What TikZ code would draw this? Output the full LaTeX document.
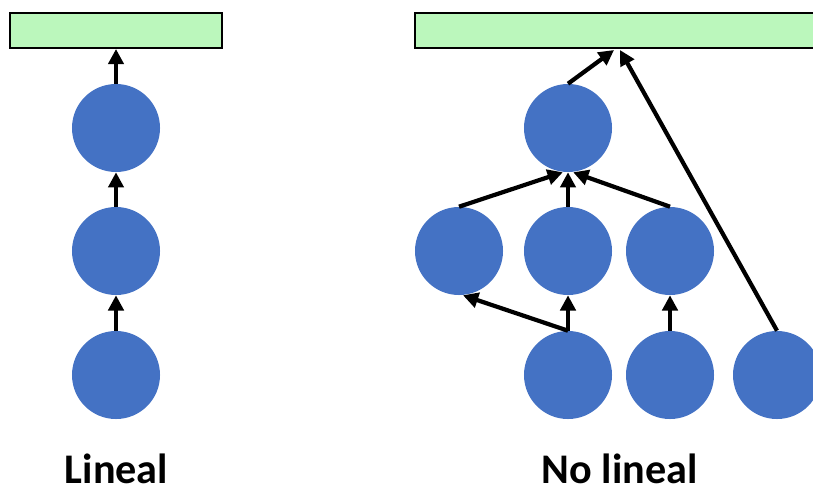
\documentclass[tikz,border=0pt]{standalone}
\usepackage{fontspec}
\setmainfont{Carlito}
\usetikzlibrary{arrows.meta}
\definecolor{nodeblue}{HTML}{4472C4}
\definecolor{bargreen}{HTML}{BBF7BC}
\begin{document}
	\begin{tikzpicture}[x=0.025cm, y=-0.025cm,
		vert/.style={circle, fill=nodeblue, minimum size=2.2cm, inner sep=0pt},
		bar/.style={draw, line width=1.4pt, fill=bargreen, minimum height=0.875cm, inner sep=0pt},
		dep/.style={line width=3pt, -{Triangle[length=3.8mm, width=3.8mm]}},
		lbl/.style={font=\fontsize{30}{36}\selectfont\bfseries, anchor=base, inner sep=0pt}]
		\useasboundingbox ( 0, 0 ) rectangle ( 813, 486 );

		% цепочка слева
		\node [bar, minimum width=5.3cm] (lbar) at ( 116, 30.5 ) {};
		\node [vert] (l1) at ( 116, 128 ) {};
		\node [vert] (l2) at ( 116, 251 ) {};
		\node [vert] (l3) at ( 116, 375 ) {};
		\draw [dep] (l3.north) -- (l2.south);
		\draw [dep] (l2.north) -- (l1.south);
		\draw [dep] (l1.north) -- (lbar.south);
		\node [lbl] (llbl) at ( 116.5, 483 ) {Lineal};

		% граф справа
		\node [bar, minimum width=10.05cm] (rbar) at ( 616, 30.5 ) {};
		\coordinate (rin1) at ( 614, 50 );
		\coordinate (rin2) at ( 620, 50 );
		\node [vert] (t) at ( 568, 128 ) {};
		\node [vert] (m1) at ( 459, 251 ) {};
		\node [vert] (m2) at ( 568, 251 ) {};
		\node [vert] (m3) at ( 670, 251 ) {};
		\node [vert] (b1) at ( 568, 375 ) {};
		\node [vert] (b2) at ( 670, 375 ) {};
		\node [vert] (b3) at ( 777, 375 ) {};
		\draw [dep] (t.north) -- (rin1);
		\draw [dep] (b3.north) -- (rin2);
		\draw [dep] (m1.north) -- ([xshift=-1.3mm]t.south);
		\draw [dep] (m2.north) -- (t.south);
		\draw [dep] (m3.north) -- ([xshift=1.3mm]t.south);
		\draw [dep] (b1.north) -- ([xshift=1mm]m1.south);
		\draw [dep] (b1.north) -- (m2.south);
		\draw [dep] (b2.north) -- (m3.south);
		\node [lbl] (rlbl) at ( 619.5, 483 ) {No lineal};
	\end{tikzpicture}
\end{document}
